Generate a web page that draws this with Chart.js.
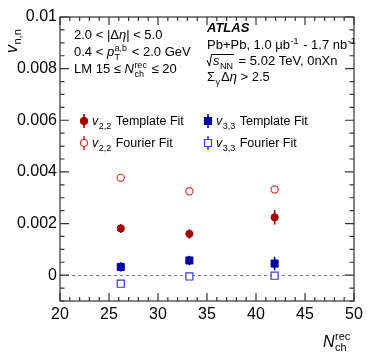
<!DOCTYPE html>
<html>
<head>
<meta charset="utf-8">
<script src="https://cdn.jsdelivr.net/npm/chart.js@4/dist/chart.umd.min.js"></script>
<style>
  html, body { margin: 0; padding: 0; background: #fff; }
  #wrap { width: 374px; height: 359px; }
</style>
</head>
<body>
<div id="wrap"><canvas id="c" width="374" height="359"></canvas></div>
<script>
// multiplicity bins (N_ch^rec)
const nch = [26.2, 33.2, 41.9];

const v22Template = [0.00181, 0.00160, 0.00224];
const v22TemplateErr = [0.00017, 0.00018, 0.00028];
const v22Fourier = [0.00377, 0.00325, 0.00332];
const v22FourierErr = [0.00005, 0.00005, 0.00010];
const v33Template = [0.00032, 0.00057, 0.00045];
const v33TemplateErr = [0.00018, 0.00018, 0.00026];
const v33Fourier = [-0.00033, -0.00005, -0.00002];
const v33FourierErr = [0.00003, 0.00004, 0.00010];

const xTicks = [20, 25, 30, 35, 40, 45, 50];
const xTickLabels = ['20', '25', '30', '35', '40', '45', '50'];
const yTicks = [0, 0.002, 0.004, 0.006, 0.008, 0.01];
const yTickLabels = ['0', '0.002', '0.004', '0.006', '0.008', '0.01'];

const FONT = '"Liberation Sans", Arial, sans-serif';

const red = '#a50000', redOpen = '#cc3b3b';
const blue = '#0000a0', blueOpen = '#3b3bcc';

function pts(ys) {
    return ys.map((y, i) => ({ x: nch[i], y: y }));
}

// text with italics, sub/superscripts
function rich(ctx, x, y, toks, fs) {
    toks.forEach(k => {
        if (k.t !== undefined) {
            ctx.font = (k.i ? 'italic ' : '') + (k.b ? 'bold ' : '') + fs + 'px ' + FONT;
            ctx.fillText(k.t, x, y);
            x += ctx.measureText(k.t).width;
        } else {
            const s = Math.round(fs * 0.7);
            ctx.font = s + 'px ' + FONT;
            let w = 0;
            if (k.sub) { ctx.fillText(k.sub, x + 0.5, y + fs * 0.28); w = ctx.measureText(k.sub).width; }
            if (k.sup) { ctx.fillText(k.sup, x + 0.5, y - fs * 0.42); w = Math.max(w, ctx.measureText(k.sup).width); }
            x += w + 1.5;
        }
    });
    return x;
}

const errorBars = {
    id: 'errorBars',
    beforeDatasetsDraw(chart) {
        const ctx = chart.ctx;
        const ys = chart.scales.y;
        chart.data.datasets.forEach((ds, di) => {
            const meta = chart.getDatasetMeta(di);
            ctx.save();
            ctx.strokeStyle = ds.borderColor;
            ctx.lineWidth = 1.6;
            ds.data.forEach((p, i) => {
                const el = meta.data[i];
                const e = ds.errors[i];
                ctx.beginPath();
                ctx.moveTo(el.x, ys.getPixelForValue(p.y - e));
                ctx.lineTo(el.x, ys.getPixelForValue(p.y + e));
                ctx.stroke();
            });
            ctx.restore();
        });
    }
};

const frame = {
    id: 'frame',
    beforeDatasetsDraw(chart) {
        const { ctx, chartArea: a, scales: { x, y } } = chart;
        ctx.save();
        // dashed zero line
        ctx.strokeStyle = '#777';
        ctx.lineWidth = 1;
        ctx.setLineDash([3, 3]);
        ctx.beginPath();
        ctx.moveTo(a.left, Math.round(y.getPixelForValue(0)) + 0.5);
        ctx.lineTo(a.right, Math.round(y.getPixelForValue(0)) + 0.5);
        ctx.stroke();
        ctx.setLineDash([]);
        ctx.restore();
    },
    afterDraw(chart) {
        const { ctx, chartArea: a, scales: { x, y } } = chart;
        ctx.save();
        ctx.strokeStyle = '#333';
        ctx.lineWidth = 1.2;
        ctx.strokeRect(a.left, a.top, a.right - a.left, a.bottom - a.top);
        ctx.beginPath();
        for (let v = 20; v <= 50; v++) {
            const px = x.getPixelForValue(v);
            const len = v % 5 === 0 ? 8 : 4;
            ctx.moveTo(px, a.bottom); ctx.lineTo(px, a.bottom - len);
            ctx.moveTo(px, a.top); ctx.lineTo(px, a.top + len);
        }
        for (let k = -2; k <= 20; k++) {
            const v = k * 0.0005;
            const py = y.getPixelForValue(v);
            const len = k % 4 === 0 ? 9 : 4.5;
            ctx.moveTo(a.left, py); ctx.lineTo(a.left + len, py);
            ctx.moveTo(a.right, py); ctx.lineTo(a.right - len, py);
        }
        ctx.stroke();

        ctx.fillStyle = '#000';
        ctx.textBaseline = 'alphabetic';
        ctx.textAlign = 'left';

        // axis titles
        ctx.save();
        ctx.translate(17, 53);
        ctx.rotate(-Math.PI / 2);
        rich(ctx, 0, 0, [{ t: 'v', i: 1 }, { sub: 'n,n' }], 16);
        ctx.restore();
        rich(ctx, 323, 347, [{ t: 'N', i: 1 }, { sub: 'ch', sup: 'rec' }], 16);

        // selection text
        const fs = 13;
        rich(ctx, 74, 39, [{ t: '2.0 < |Δ' }, { t: 'η', i: 1 }, { t: '| < 5.0' }], fs);
        rich(ctx, 74, 56, [{ t: '0.4 < ' }, { t: 'p', i: 1 }, { sub: 'T', sup: 'a,b' }, { t: ' < 2.0 GeV' }], fs);
        rich(ctx, 74, 73, [{ t: 'LM 15 ≤ ' }, { t: 'N', i: 1 }, { sub: 'ch', sup: 'rec' }, { t: ' ≤ 20' }], fs);

        rich(ctx, 207, 32, [{ t: 'ATLAS', i: 1, b: 1 }], 13);
        rich(ctx, 207, 49, [{ t: 'Pb+Pb, 1.0 μb' }, { sup: '-1' }, { t: ' - 1.7 nb' }, { sup: '-1' }], fs);
        // sqrt(s_NN)
        const sx = 207;
        const endX = rich(ctx, sx + 6, 65, [{ t: 's', i: 1 }, { sub: 'NN' }], fs);
        ctx.lineWidth = 1;
        ctx.strokeStyle = '#000';
        ctx.beginPath();
        ctx.moveTo(sx, 60); ctx.lineTo(sx + 2.5, 66); ctx.lineTo(sx + 4.5, 54.5); ctx.lineTo(endX, 54.5);
        ctx.stroke();
        rich(ctx, endX + 1, 65, [{ t: ' = 5.02 TeV, 0nXn' }], fs);
        rich(ctx, 207, 81, [{ t: 'Σ' }, { sub: 'γ' }, { t: 'Δ' }, { t: 'η', i: 1 }, { t: ' > 2.5' }], fs);

        // legend
        const leg = [
            [84, 121, red, 'circle', true, '2,2', 'Template Fit'],
            [84, 143, redOpen, 'circle', false, '2,2', 'Fourier Fit'],
            [208, 121, blue, 'rect', true, '3,3', 'Template Fit'],
            [208, 143, blueOpen, 'rect', false, '3,3', 'Fourier Fit']
        ];
        leg.forEach(([lx, ly, col, shape, filled, sub, label]) => {
            ctx.strokeStyle = col;
            ctx.fillStyle = col;
            ctx.lineWidth = 1.6;
            ctx.beginPath();
            ctx.moveTo(lx, ly - 7); ctx.lineTo(lx, ly + 7);
            ctx.stroke();
            ctx.lineWidth = 1.2;
            ctx.beginPath();
            if (shape === 'circle') ctx.arc(lx, ly, 3.5, 0, Math.PI * 2);
            else ctx.rect(lx - 3.5, ly - 3.5, 7, 7);
            if (filled) { ctx.fill(); ctx.stroke(); }
            else { ctx.fillStyle = '#fff'; ctx.fill(); ctx.stroke(); }
            ctx.fillStyle = '#000';
            rich(ctx, lx + 8, ly + 4, [{ t: 'v', i: 1 }, { sub: sub }, { t: ' ' + label }], 12.5);
        });
        ctx.restore();
    }
};

const ctx = document.getElementById('c');

new Chart(ctx, {
    type: 'scatter',
    data: {
        datasets: [
            {
                label: 'v22 Template Fit', data: pts(v22Template), errors: v22TemplateErr,
                pointStyle: 'circle', pointRadius: 3.6, backgroundColor: red, borderColor: red, borderWidth: 1
            },
            {
                label: 'v22 Fourier Fit', data: pts(v22Fourier), errors: v22FourierErr,
                pointStyle: 'circle', pointRadius: 3.6, backgroundColor: '#fff', borderColor: redOpen, borderWidth: 1.2
            },
            {
                label: 'v33 Template Fit', data: pts(v33Template), errors: v33TemplateErr,
                pointStyle: 'rect', pointRadius: 5, backgroundColor: blue, borderColor: blue, borderWidth: 1
            },
            {
                label: 'v33 Fourier Fit', data: pts(v33Fourier), errors: v33FourierErr,
                pointStyle: 'rect', pointRadius: 5, backgroundColor: '#fff', borderColor: blueOpen, borderWidth: 1.2
            }
        ]
    },
    options: {
        responsive: false,
        animation: false,
        events: [],
        layout: { autoPadding: false, padding: { top: 17, right: 20, left: 0, bottom: 0 } },
        plugins: {
            legend: { display: false },
            tooltip: { enabled: false }
        },
        scales: {
            x: {
                type: 'linear', min: 20, max: 50,
                grid: { display: false, drawTicks: false },
                border: { display: false },
                afterBuildTicks: s => { s.ticks = xTicks.map(v => ({ value: v })); },
                afterFit: s => { s.height = 58; },
                ticks: {
                    padding: 4, color: '#000', maxRotation: 0,
                    font: { family: FONT, size: 16 },
                    callback: (v, i) => xTickLabels[i]
                }
            },
            y: {
                type: 'linear', min: -0.001, max: 0.01,
                grid: { display: false, drawTicks: false },
                border: { display: false },
                afterBuildTicks: s => { s.ticks = yTicks.map(v => ({ value: v })); },
                afterFit: s => { s.width = 60; },
                ticks: {
                    padding: 3, color: '#000',
                    font: { family: FONT, size: 16 },
                    callback: (v, i) => yTickLabels[i]
                }
            }
        }
    },
    plugins: [errorBars, frame]
});
</script>
</body>
</html>
